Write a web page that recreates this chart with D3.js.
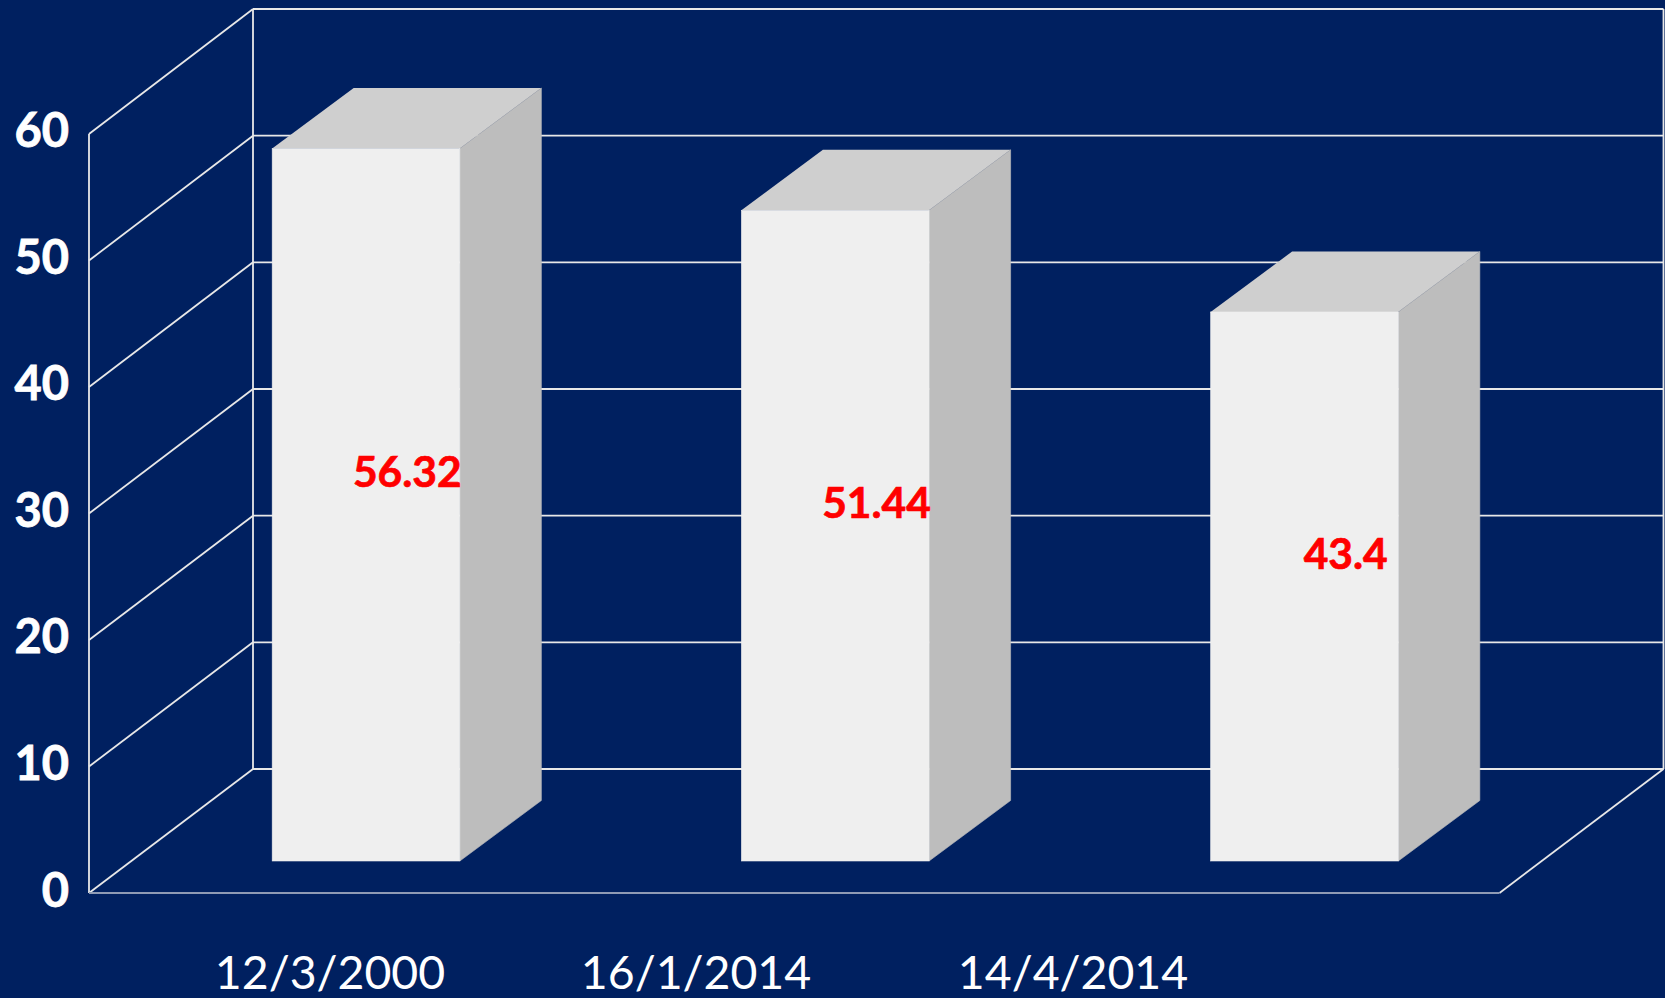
<!DOCTYPE html>
<html>
<head>
<meta charset="utf-8">
<script src="https://cdn.jsdelivr.net/npm/d3@7"></script>
<style>
html, body { margin: 0; padding: 0; background: #002060; overflow: hidden; }
svg { display: block; font-family: Lato, sans-serif; }
</style>
</head>
<body>
<div id="container"></div>
<script>
var categories = ['12/3/2000', '16/1/2014', '14/4/2014']
var values = [56.32, 51.44, 43.4]
var valueLabels = ['56.32', '51.44', '43.4']
var yTicks = [0, 10, 20, 30, 40, 50, 60]

var scene_width = 1665
var scene_height = 998

// front plane of the box, everything else is offset from it
var left = 89, right = 1499.5, floorY = 893
var depthX = 164
var barDepth = [81.5, -60.5]
var barShift = [41, -32]   // bars stand this far back from the front plane
var labelX = [330, 696, 1073]  // date labels do not sit under the bars in the original

var x = d3.scaleBand().domain(categories).range([left, right]).paddingInner(0.6).paddingOuter(0.303)
var y = d3.scaleLinear().domain([0, 60]).range([floorY, 134])
var yBack = d3.scaleLinear().domain([0, 60]).range([769, 9])
var yLabel = d3.scaleLinear().domain([0, 60]).range([891, 131.5])

var svg = d3.select('#container').append('svg')
    .attr('width', scene_width)
    .attr('height', scene_height)

svg.append('rect')
    .attr('width', scene_width)
    .attr('height', scene_height)
    .style('fill', '#002060')

var grid = svg.append('g')
    .style('stroke', '#e8e8e8')
    .style('stroke-width', 1.8)
    .style('fill', 'none')

function line(x1, y1, x2, y2) {
    return grid.append('line').attr('x1', x1).attr('y1', y1).attr('x2', x2).attr('y2', y2)
}

yTicks.forEach(function(t) {
    line(left, y(t), left + depthX, yBack(t))
    line(left + depthX, yBack(t), right + depthX, yBack(t))
})
line(left, y(0), left, y(60))
line(left + depthX, yBack(0), left + depthX, yBack(60))
line(right + depthX, yBack(0), right + depthX, yBack(60))
line(right, y(0), right + depthX, yBack(0))
line(left, y(0), right, y(0)).style('stroke', '#8f9bb5')

var bars = svg.selectAll('.bar').data(values).enter().append('g').attr('class', 'bar')

function barX(i) { return x(categories[i]) + barShift[0] }
function barTop(d) { return y(d) + barShift[1] }
var barBottom = y(0) + barShift[1]
var w = x.bandwidth()

// top
bars.append('path')
    .attr('d', function(d, i) {
        var x0 = barX(i), t = barTop(d)
        return 'M' + x0 + ',' + t + 'L' + (x0 + barDepth[0]) + ',' + (t + barDepth[1]) +
            'L' + (x0 + w + barDepth[0]) + ',' + (t + barDepth[1]) + 'L' + (x0 + w) + ',' + t + 'Z'
    })
    .style('fill', '#cfcfcf')

// side
bars.append('path')
    .attr('d', function(d, i) {
        var x0 = barX(i) + w, t = barTop(d)
        return 'M' + x0 + ',' + t + 'L' + (x0 + barDepth[0]) + ',' + (t + barDepth[1]) +
            'L' + (x0 + barDepth[0]) + ',' + (barBottom + barDepth[1]) + 'L' + x0 + ',' + barBottom + 'Z'
    })
    .style('fill', '#bdbdbd')
    .style('stroke', '#bdbdbd')
    .style('stroke-width', 0.6)

// front
bars.append('rect')
    .attr('x', function(d, i) { return barX(i) })
    .attr('y', function(d) { return barTop(d) })
    .attr('width', w)
    .attr('height', function(d) { return barBottom - barTop(d) })
    .style('fill', '#efefef')
    .style('stroke', '#efefef')
    .style('stroke-width', 0.6)

// value labels sit at the centre of the 3d bar
bars.append('text')
    .attr('x', function(d, i) { return barX(i) + w / 2 + barDepth[0] / 2 + 0.5 })
    .attr('y', function(d) { return (barTop(d) + barBottom) / 2 + barDepth[1] / 2 - 2 })
    .attr('dy', '0.35em')
    .attr('text-anchor', 'middle')
    .style('fill', '#ff0000')
    .style('stroke', '#ff0000')
    .style('stroke-width', 0.7)
    .style('font-size', '42.5px')
    .style('font-weight', 700)
    .text(function(d, i) { return valueLabels[i] })

var yAxis = svg.append('g')
    .attr('transform', 'translate(' + (left - 20) + ',0)')
    .call(d3.axisLeft(yLabel).tickValues(yTicks).tickSize(0).tickPadding(0).tickFormat(d3.format('d')))
yAxis.select('.domain').remove()
yAxis.selectAll('text')
    .style('fill', '#ffffff')
    .style('stroke', '#ffffff')
    .style('stroke-width', 0.8)
    .style('font-family', 'Lato, sans-serif')
    .style('font-size', '47px')
    .style('font-weight', 700)

svg.selectAll('.cat').data(categories).enter().append('text')
    .attr('class', 'cat')
    .attr('x', function(d, i) { return labelX[i] })
    .attr('y', 989)
    .attr('text-anchor', 'middle')
    .style('fill', '#ffffff')
    .style('font-size', '46.4px')
    .text(function(d) { return d })
</script>
</body>
</html>
